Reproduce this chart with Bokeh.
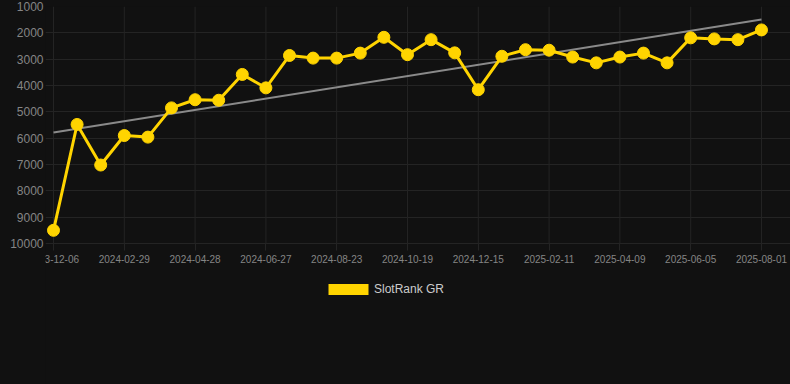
import numpy as np
from bokeh.plotting import figure
from bokeh.models import (Range1d, FixedTicker, Legend, LegendItem)
from bokeh.embed import file_html
from bokeh.resources import INLINE

# ---- data ----
ranks = [9500, 5480, 7020, 5900, 5960, 4850, 4540, 4560, 3580, 4090,
         2860, 2960, 2960, 2770, 2170, 2830, 2260, 2760, 4160, 2890,
         2640, 2660, 2920, 3140, 2920, 2770, 3140, 2190, 2230, 2260, 1890]
tick_positions = [0, 3, 6, 9, 12, 15, 18, 21, 24, 27, 30]
tick_labels = ["2023-12-06", "2024-02-29", "2024-04-28", "2024-06-27",
               "2024-08-23", "2024-10-19", "2024-12-15", "2025-02-11",
               "2025-04-09", "2025-06-05", "2025-08-01"]
y_ticks = [1000, 2000, 3000, 4000, 5000, 6000, 7000, 8000, 9000, 10000]
series_name = "SlotRank GR"

idx = list(range(len(ranks)))
slope, intercept = np.polyfit(idx, ranks, 1)
trend_x = [idx[0], idx[-1]]
trend_y = [intercept + slope * idx[0], intercept + slope * idx[-1]]

BG = "#111111"
GRID = "#242424"
YELLOW = "#FFD400"
FONT = "Liberation Sans"

y_top, y_bottom = y_ticks[0], y_ticks[-1]
FRAME_H = 378
DATA_H = 237  # pixels between the 1000 and 10000 gridlines
y_frame_bottom = y_top + FRAME_H * (y_bottom - y_top) / DATA_H

p = figure(width=791, height=386, frame_width=745, frame_height=FRAME_H,
           output_backend="svg", toolbar_location=None,
           x_range=Range1d(-0.339, 31.23),
           y_range=Range1d(y_frame_bottom, y_top),
           min_border_left=46, min_border_right=0, min_border_top=7,
           min_border_bottom=1)
p.styles = {"position": "absolute", "left": "-1px", "top": "-1px",
            "background-color": BG}
p.background_fill_color = BG
p.border_fill_color = BG
p.outline_line_color = None

# vertical gridlines only over the data area
p.xgrid.visible = False
p.segment(x0=tick_positions, y0=[y_top] * len(tick_positions),
          x1=tick_positions, y1=[y_bottom] * len(tick_positions),
          line_color=GRID, line_width=1)
p.ygrid.ticker = FixedTicker(ticks=y_ticks)
p.ygrid.grid_line_color = GRID

xa = p.xaxis[0]
xa.fixed_location = y_bottom
xa.ticker = FixedTicker(ticks=tick_positions)
xa.major_label_overrides = {t: l for t, l in zip(tick_positions, tick_labels)}
xa.axis_line_color = None
xa.major_tick_line_color = GRID
xa.major_tick_out = 7
xa.major_tick_in = 0
xa.minor_tick_line_color = None
xa.major_label_text_color = "#858585"
xa.major_label_text_font = FONT
xa.major_label_text_font_size = "10px"
xa.major_label_standoff = 4

ya = p.yaxis[0]
ya.ticker = FixedTicker(ticks=y_ticks)
ya.axis_line_color = None
ya.major_tick_line_color = None
ya.major_tick_out = 0
ya.minor_tick_line_color = None
ya.major_label_text_color = "#858585"
ya.major_label_text_font = FONT
ya.major_label_text_font_size = "12px"
ya.major_label_standoff = 2

p.line(trend_x, trend_y, line_color="#8a8a8a", line_width=2)
p.line(idx, ranks, line_color=YELLOW, line_width=3)
p.scatter(idx, ranks, size=12, fill_color=YELLOW, line_color=YELLOW)

# zero-size swatch renderer used only for the legend entry
swatch = p.quad(left=[0], right=[0], top=[0], bottom=[0], fill_color=YELLOW,
                line_color=None)
legend = Legend(items=[LegendItem(label=series_name, renderers=[swatch])],
                orientation="horizontal", location=(278, 88),
                glyph_width=50, glyph_height=14, label_standoff=1,
                label_text_color="#cccccc", label_text_font=FONT,
                label_text_font_size="12px", background_fill_alpha=0,
                border_line_color=None, margin=0, padding=4, spacing=0)
p.add_layout(legend, "center")

open("out.html", "w").write(file_html(p, INLINE))
